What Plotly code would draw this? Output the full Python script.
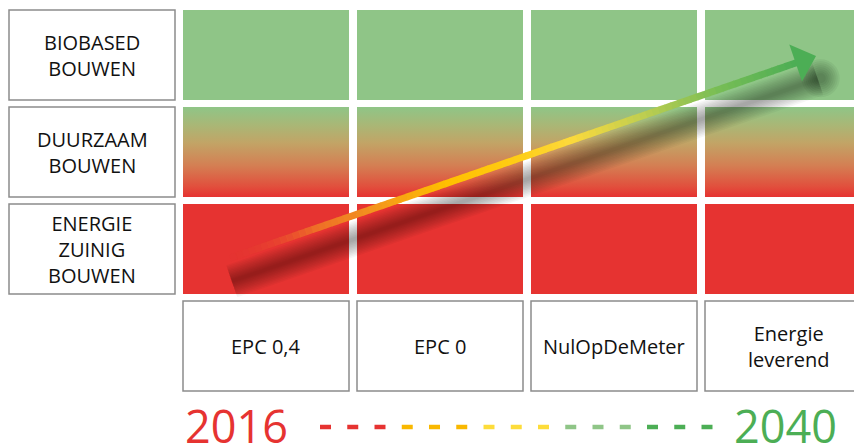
import numpy as np
import plotly.graph_objects as go

# ---------------- data ----------------
# building levels, bottom to top
levels = [["ENERGIE", "ZUINIG", "BOUWEN"], ["DUURZAAM", "BOUWEN"], ["BIOBASED", "BOUWEN"]]
level_fill = ["red", "gradient", "green"]
# energy standards (columns)
standards = [["EPC 0,4"], ["EPC 0"], ["NulOpDeMeter"], ["Energie", "leverend"]]
# timeline
years = ["2016", "2040"]
year_colors = ["#e63331", "#4cae55"]
dash_groups = ["#e63331", "#f9b800", "#fddc3a", "#8fc587", "#4cae55"]
dashes_per_group = 3
# trend arrow in grid units (column index, level index)
trend_from = (-0.207, -0.093)
trend_to = (3.161, 1.99)

# ---------------- layout constants ----------------
PAGE_W, PAGE_H, BODY = 862, 444, 8   # page offset of the plot div
W, H = PAGE_W - BODY, PAGE_H - BODY
XU, YU = 174.0, 97.0          # px per column / per level
X0PX, Y0PX = 266.0, 249.0     # page px of column 0 / level 0 centre
HW, HH = 83 / XU, 45 / YU     # half cell size

RED = "#e63331"
GREEN = "#8fc587"
GRAD = [[0, "#e63331"], [0.12, "#e1503d"], [0.35, "#d47f53"],
        [0.6, "#c2a466"], [0.8, "#a9b776"], [1, "#8fc587"]]
FONT = "Open Sans"


def from_px(px, py):
    return ((px - X0PX) / XU, (Y0PX - py) / YU)


def to_px(x, y):
    return (X0PX + XU * x, Y0PX - YU * y)


fig = go.Figure()
shapes = []
annotations = []

# grid cells
for j, fill in enumerate(level_fill):
    for c in range(len(standards)):
        x0, x1, y0, y1 = c - HW, c + HW, j - HH, j + HH
        if fill == "gradient":
            fig.add_trace(go.Scatter(
                x=[x0, x1, x1, x0, x0], y=[y0, y0, y1, y1, y0], mode="lines",
                line=dict(width=0), fill="toself",
                fillgradient=dict(type="vertical", colorscale=GRAD, start=y0, stop=y1),
                hoverinfo="skip", showlegend=False))
        else:
            shapes.append(dict(type="rect", xref="x", yref="y", x0=x0, x1=x1, y0=y0, y1=y1,
                               fillcolor=RED if fill == "red" else GREEN,
                               line=dict(width=0), layer="below"))

# row label boxes
for j, lines in enumerate(levels):
    shapes.append(dict(type="rect", xref="x", yref="y", x0=-1 - HW, x1=-1 + HW,
                       y0=j - HH, y1=j + HH, fillcolor="white",
                       line=dict(color="#8c8c8c", width=1.5), layer="below"))
    annotations.append(dict(x=-1, y=j, xref="x", yref="y", text="<br>".join(lines),
                            showarrow=False, font=dict(family=FONT, size=20, color="#111")))

# column label boxes
for c, lines in enumerate(standards):
    shapes.append(dict(type="rect", xref="x", yref="y", x0=c - HW, x1=c + HW,
                       y0=-1 - HH, y1=-1 + HH, fillcolor="white",
                       line=dict(color="#8c8c8c", width=1.5), layer="below"))
    annotations.append(dict(x=c, y=-1, xref="x", yref="y", text="<br>".join(lines),
                            showarrow=False, font=dict(family=FONT, size=20, color="#111")))

# ---------------- arrow geometry (pixel space) ----------------
sx, sy = to_px(*trend_from)
tx, ty = to_px(*trend_to)
d = np.array([tx - sx, ty - sy])
L = np.linalg.norm(d)
u = d / L
n = np.array([-u[1], u[0]])
head_len, head_half = 21.5, 19.5
base = np.array([tx, ty]) - u * head_len

# shadow (soft, offset downward)
sh_off = np.array([-2.0, 24.5])
sh_a = np.array([sx, sy]) + sh_off + u * 4
sh_b = np.array([tx, ty]) + u * 4 + sh_off
p0 = from_px(*sh_a)
p1 = from_px(*sh_b)
for w in range(34, 3, -3):
    fig.add_trace(go.Scatter(x=[p0[0], p1[0]], y=[p0[1], p1[1]], mode="lines",
                             line=dict(color="rgba(0,0,0,0.034)", width=w),
                             hoverinfo="skip", showlegend=False))
pb = from_px(*(sh_b + u * 3))
for s in range(38, 6, -4):
    fig.add_trace(go.Scatter(x=[pb[0]], y=[pb[1]], mode="markers",
                             marker=dict(size=s, color="rgba(20,35,20,0.06)", line=dict(width=0)),
                             hoverinfo="skip", showlegend=False))

# arrow gradient
stops = [(0.0, (229, 60, 50, 0.0)), (0.07, (233, 75, 48, 0.45)), (0.15, (238, 110, 40, 1)),
         (0.25, (243, 148, 30, 1)), (0.38, (255, 192, 0, 1)), (0.5, (255, 205, 20, 1)),
         (0.6, (253, 218, 60, 1)), (0.72, (195, 207, 80, 1)), (0.86, (120, 190, 85, 1)),
         (1.0, (76, 174, 85, 1))]


def col_at(t):
    for (t0, c0), (t1, c1) in zip(stops[:-1], stops[1:]):
        if t0 <= t <= t1:
            f = (t - t0) / (t1 - t0)
            c = [c0[i] + (c1[i] - c0[i]) * f for i in range(4)]
            return f"rgba({int(c[0])},{int(c[1])},{int(c[2])},{c[3]:.3f})"
    return f"rgba{stops[-1][1]}"


N = 90
shaft_end = base + u * 2
pts = [np.array([sx, sy]) + (shaft_end - np.array([sx, sy])) * k / N for k in range(N + 1)]
for k in range(N):
    a = from_px(*pts[k])
    b = from_px(*(pts[k + 1] + u * 0.6))
    shapes.append(dict(type="line", xref="x", yref="y", x0=a[0], y0=a[1], x1=b[0], y1=b[1],
                       line=dict(color=col_at((k + 0.5) / N), width=7), layer="above"))

c1 = from_px(*(base + n * head_half))
c2 = from_px(*(base - n * head_half))
tp = from_px(tx, ty)
shapes.append(dict(type="path", xref="x", yref="y",
                   path=f"M{tp[0]},{tp[1]} L{c1[0]},{c1[1]} L{c2[0]},{c2[1]} Z",
                   fillcolor="#4cae55", line=dict(width=0), layer="above"))

# ---------------- timeline ----------------
ty_year = (Y0PX - 425) / YU
annotations.append(dict(x=-HW, y=ty_year, xref="x", yref="y", text=years[0], xanchor="left",
                        yanchor="middle", showarrow=False,
                        font=dict(family=FONT, size=45, color=year_colors[0])))
annotations.append(dict(x=len(standards) - 1 - 0.015, y=ty_year, xref="x", yref="y", text=years[1],
                        xanchor="center", yanchor="middle", showarrow=False,
                        font=dict(family=FONT, size=45, color=year_colors[1])))

dash_x0 = (320 - X0PX) / XU
dash_step = 27.25 / XU
dash_len = 11 / XU
dash_y = (Y0PX - 427) / YU
for g, color in enumerate(dash_groups):
    for k in range(dashes_per_group):
        i = g * dashes_per_group + k
        xs = dash_x0 + i * dash_step
        shapes.append(dict(type="line", xref="x", yref="y", x0=xs, x1=xs + dash_len,
                           y0=dash_y, y1=dash_y, line=dict(color=color, width=4.5)))

fig.update_layout(
    width=W, height=H, margin=dict(l=0, r=0, t=0, b=0),
    paper_bgcolor="white", plot_bgcolor="white",
    xaxis=dict(range=[(BODY - X0PX) / XU, (PAGE_W - X0PX) / XU], visible=False, fixedrange=True),
    yaxis=dict(range=[(Y0PX - PAGE_H) / YU, (Y0PX - BODY) / YU], visible=False, fixedrange=True),
    shapes=shapes, annotations=annotations, showlegend=False,
)

fig.write_html("out.html")
